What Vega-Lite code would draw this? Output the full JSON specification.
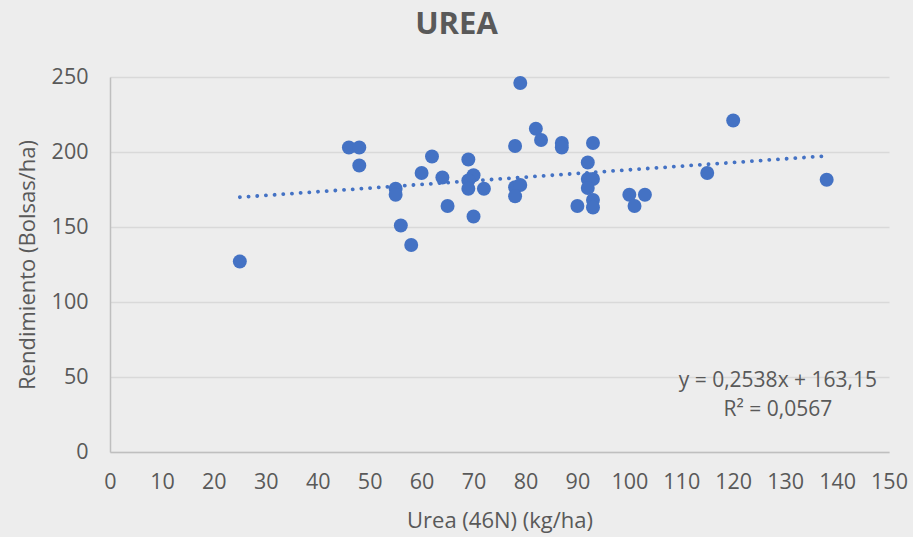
{
  "$schema": "https://vega.github.io/schema/vega-lite/v6.json",
  "autosize": {"type": "none"},
  "width": 779,
  "height": 375,
  "padding": {"left": 110, "top": 77, "right": 24, "bottom": 85},
  "background": "#ededed",
  "title": {
    "text": "UREA",
    "font": "Open Sans",
    "fontSize": 31,
    "fontWeight": "bold",
    "color": "#595959",
    "anchor": "middle",
    "frame": "group",
    "dx": -43,
    "offset": 25
  },
  "config": {
    "view": {"stroke": null},
    "axis": {
      "labelFont": "Open Sans",
      "titleFont": "Open Sans",
      "labelFontSize": 21.5,
      "titleFontSize": 22,
      "labelColor": "#595959",
      "titleColor": "#595959",
      "titleFontWeight": "normal",
      "gridColor": "#d9d9d9",
      "gridWidth": 1.5,
      "domainColor": "#bfbfbf",
      "domainWidth": 1.5,
      "ticks": false,
      "labelFlush": false,
      "labelOverlap": false
    }
  },
  "data": {
    "values": [
      {"urea": 25, "rend": 127},
      {"urea": 46, "rend": 203},
      {"urea": 48, "rend": 203},
      {"urea": 48, "rend": 191},
      {"urea": 55, "rend": 175.5},
      {"urea": 55, "rend": 171.5},
      {"urea": 56, "rend": 151},
      {"urea": 58, "rend": 138},
      {"urea": 60, "rend": 186},
      {"urea": 62, "rend": 197},
      {"urea": 64, "rend": 183},
      {"urea": 65, "rend": 164},
      {"urea": 69, "rend": 195},
      {"urea": 70, "rend": 184.5},
      {"urea": 69, "rend": 181},
      {"urea": 69, "rend": 175.5},
      {"urea": 72, "rend": 175.5},
      {"urea": 70, "rend": 157},
      {"urea": 78, "rend": 204},
      {"urea": 78, "rend": 176.5},
      {"urea": 79, "rend": 178},
      {"urea": 78, "rend": 170.5},
      {"urea": 79, "rend": 246},
      {"urea": 82, "rend": 215.5},
      {"urea": 83, "rend": 208},
      {"urea": 87, "rend": 206},
      {"urea": 87, "rend": 203},
      {"urea": 90, "rend": 164},
      {"urea": 92, "rend": 193},
      {"urea": 92, "rend": 182},
      {"urea": 93, "rend": 182},
      {"urea": 92, "rend": 176},
      {"urea": 93, "rend": 206},
      {"urea": 93, "rend": 168},
      {"urea": 93, "rend": 163},
      {"urea": 100, "rend": 171.5},
      {"urea": 101, "rend": 164},
      {"urea": 103, "rend": 171.5},
      {"urea": 115, "rend": 186},
      {"urea": 120, "rend": 221},
      {"urea": 138, "rend": 181.5}
    ]
  },
  "layer": [
    {
      "mark": {"type": "circle", "size": 195, "color": "#4472c4", "opacity": 1},
      "encoding": {
        "x": {
          "field": "urea",
          "type": "quantitative",
          "scale": {"domain": [0, 150], "nice": false},
          "axis": {"values": [0,10,20,30,40,50,60,70,80,90,100,110,120,130,140,150], "grid": false, "labelPadding": 19, "title": "Urea (46N) (kg/ha)", "titlePadding": 18}
        },
        "y": {
          "field": "rend",
          "type": "quantitative",
          "scale": {"domain": [0, 250], "nice": false},
          "axis": {"values": [0,50,100,150,200,250], "grid": true, "labelPadding": 22, "title": "Rendimiento (Bolsas/ha)", "titlePadding": 12}
        }
      }
    },
    {
      "transform": [{"regression": "rend", "on": "urea", "extent": [25, 138]}],
      "mark": {"type": "line", "color": "#4472c4", "strokeWidth": 3.8, "strokeCap": "round", "strokeDash": [0.1, 8.6]},
      "encoding": {
        "x": {"field": "urea", "type": "quantitative"},
        "y": {"field": "rend", "type": "quantitative"}
      }
    },
    {
      "data": {"values": [{"eq": "y = 0,2538x + 163,15", "r2": "R² = 0,0567"}]},
      "mark": {"type": "text", "font": "Open Sans", "fontSize": 21, "color": "#595959", "align": "center", "baseline": "middle", "lineHeight": 29},
      "encoding": {
        "x": {"datum": 128.6},
        "y": {"datum": 47.6},
        "text": {"value": ["y = 0,2538x + 163,15", "R² = 0,0567"]}
      }
    }
  ]
}
